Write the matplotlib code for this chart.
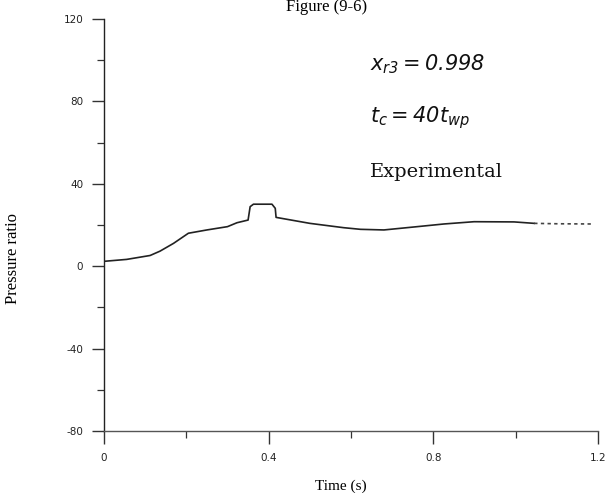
import matplotlib
matplotlib.use("Agg")
import matplotlib.pyplot as plt
from matplotlib.ticker import MultipleLocator

# Data
time_s = [0.002, 0.055, 0.112, 0.136, 0.169, 0.205, 0.25, 0.30, 0.323, 0.35,
          0.355, 0.363, 0.408, 0.416, 0.418, 0.50, 0.582, 0.623, 0.68, 0.761,
          0.826, 0.899, 0.996, 1.045]
pressure = [2.4, 3.3, 5.2, 7.3, 11.1, 16.0, 17.6, 19.2, 21.1, 22.4,
            28.9, 30.1, 30.1, 28.1, 23.7, 20.8, 18.7, 17.9, 17.6, 19.2,
            20.5, 21.6, 21.5, 20.8]
tail_time = [1.045, 1.10, 1.183]
tail_pressure = [20.8, 20.6, 20.5]

x_ticks = [0, 0.4, 0.8, 1.2]
x_labels = ["0", "0.4", "0.8", "1.2"]
y_ticks = [-80, -40, 0, 40, 80, 120]
y_labels = ["-80", "-40", "0", "40", "80", "120"]

plt.rcParams["mathtext.fontset"] = "custom"
plt.rcParams["mathtext.it"] = "DejaVu Sans:italic"
plt.rcParams["mathtext.rm"] = "DejaVu Sans:italic"

fig = plt.figure(figsize=(6.07, 4.93), dpi=100)
ax = fig.add_axes([104 / 607, 1 - 431 / 493, 494 / 607, 412 / 493])

ax.plot(time_s, pressure, color="#222222", lw=1.2)
ax.plot(tail_time, tail_pressure, color="#444444", lw=1.2, ls=(0, (2, 2)))

ax.set_xlim(0, 1.2)
ax.set_ylim(-80, 120)
for s in ["top", "right"]:
    ax.spines[s].set_visible(False)
ax.spines["left"].set_color("#222222")
ax.spines["bottom"].set_color("#555555")
ax.spines["left"].set_linewidth(1.0)
ax.spines["bottom"].set_linewidth(1.0)

ax.set_xticks(x_ticks)
ax.set_xticklabels(x_labels)
ax.set_yticks(y_ticks)
ax.set_yticklabels(y_labels)
ax.xaxis.set_minor_locator(MultipleLocator(0.2))
ax.yaxis.set_minor_locator(MultipleLocator(20))
ax.tick_params(axis="both", which="major", direction="out", length=9,
               width=1.0, color="#333333", labelsize=7.5, labelcolor="#222222")
ax.tick_params(axis="y", which="major", pad=6)
ax.tick_params(axis="x", which="major", pad=7)
ax.tick_params(axis="both", which="minor", direction="out", length=5,
               width=0.9, color="#333333")

ax.set_ylabel("Pressure ratio", family="Liberation Serif", fontsize=12)
ax.yaxis.set_label_coords(-(104 - 21) / 494, (431 - 258) / 412)
ax.set_xlabel("Time (s)", family="Liberation Serif", fontsize=11)
ax.xaxis.set_label_coords((341 - 104) / 494, -(480 - 431) / 412)

fig.text(327 / 607, 1 - 11 / 493, "Figure (9-6)", family="Liberation Serif",
         fontsize=12, ha="center", va="baseline")

ax.text(370 / 607, 1 - 70 / 493, r"$x_{r3}{=}0.998$", transform=fig.transFigure,
        fontsize=15, ha="left", va="baseline", color="#111111")
ax.text(370 / 607, 1 - 122 / 493, r"$t_c{=}40t_{wp}$", transform=fig.transFigure,
        fontsize=15, ha="left", va="baseline", color="#111111")
ax.text(370 / 607, 1 - 177 / 493, "Experimental", transform=fig.transFigure,
        family="DejaVu Serif", fontsize=14, ha="left", va="baseline", color="#111111")

fig.savefig("out.png", dpi=100)
